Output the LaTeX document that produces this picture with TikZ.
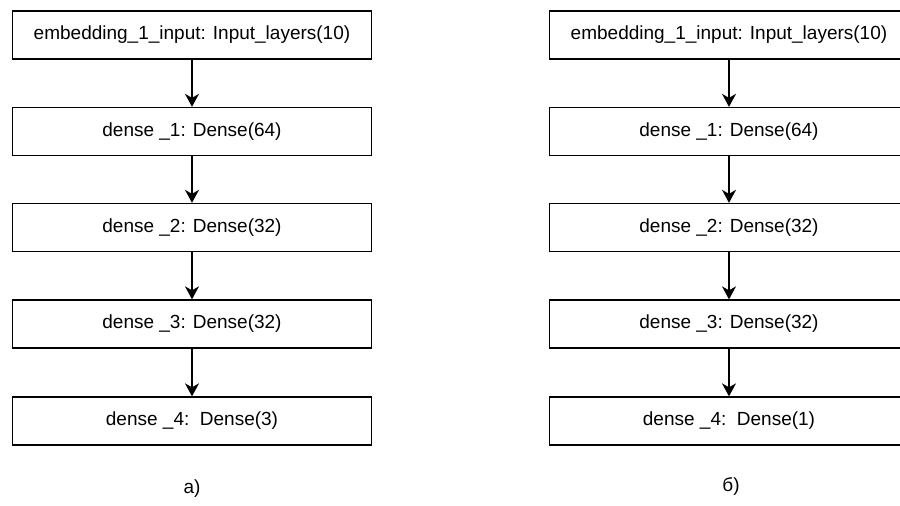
\documentclass[tikz,border=0pt]{standalone}
\usepackage{fontspec}
\setmainfont{Liberation Sans}
\usetikzlibrary{arrows.meta}
\begin{document}
\begin{tikzpicture}[x=1pt,y=-1pt,
  layer/.style={draw, line width=1.3pt, minimum width=359pt, minimum height=48pt, inner sep=0pt, font=\fontsize{19}{22}\selectfont, anchor=center},
  conn/.style={line width=1.3pt, -{Stealth[length=13pt,width=14pt,inset=4pt]}},
  caption/.style={font=\fontsize{19}{22}\selectfont, inner sep=0pt}]
\useasboundingbox (0,0) rectangle (900,506);
\clip (0,0) rectangle (900,506);
% left column
\node[layer] (a0) at (192,35) {embedding\_1\_input: Input\_layers(10)};
\node[layer] (a1) at (192,131.5) {dense \_1: Dense(64)};
\node[layer] (a2) at (192,227.5) {dense \_2: Dense(32)};
\node[layer] (a3) at (192,324) {dense \_3: Dense(32)};
\node[layer] (a4) at (192,421) {dense \_4:\ \ Dense(3)};
\draw[conn] (a0) -- (a1);
\draw[conn] (a1) -- (a2);
\draw[conn] (a2) -- (a3);
\draw[conn] (a3) -- (a4);
\node[caption] (ca) at (192,489) {a)};
% right column
\node[layer] (b0) at (729,35) {embedding\_1\_input: Input\_layers(10)};
\node[layer] (b1) at (729,131.5) {dense \_1: Dense(64)};
\node[layer] (b2) at (729,227.5) {dense \_2: Dense(32)};
\node[layer] (b3) at (729,324) {dense \_3: Dense(32)};
\node[layer] (b4) at (729,421) {dense \_4:\ \ Dense(1)};
\draw[conn] (b0) -- (b1);
\draw[conn] (b1) -- (b2);
\draw[conn] (b2) -- (b3);
\draw[conn] (b3) -- (b4);
\node[caption] (cb) at (731,486) {б)};
\end{tikzpicture}
\end{document}
